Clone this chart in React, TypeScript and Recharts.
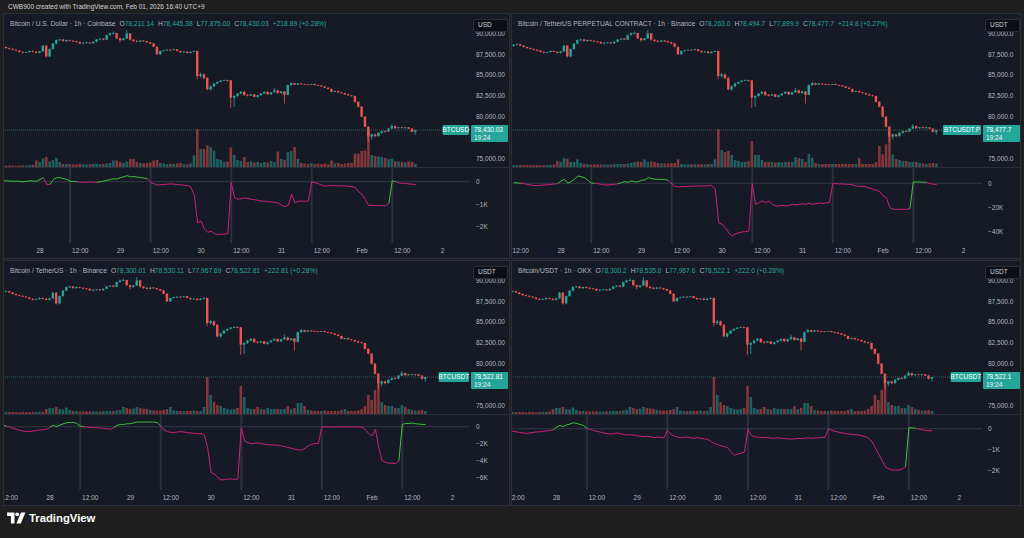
import React from "react";
import {
  ComposedChart,
  BarChart,
  LineChart,
  Bar,
  Line,
  XAxis,
  YAxis,
  ReferenceLine,
  Cell,
} from "recharts";

// ---------- time axis: hours since Jan 27 00:00 (UTC+9), first candle at 10:00 ----------
const START_HOUR = 10;
const timeTicks = [12, 24, 36, 48, 60, 72, 84, 96, 108, 120, 132, 144];
const dayLabels: Record<number, string> = { 24: "28", 48: "29", 72: "30", 96: "31", 120: "Feb", 144: "2" };
const sessionBreaks = [33, 57, 81, 105, 129];

// ---------- 1h candles (BTC) ----------
const opens = [
  88500, 88650, 88700, 88550, 88380, 88240, 88150, 88050, 87950, 87800,
  87700, 87760, 87900, 87800, 87680, 87850, 88530, 87250, 88130, 88780,
  89200, 89280, 89080, 89210, 89120, 89050, 88990, 88800, 88880, 88930,
  88820, 89000, 89280, 89380, 89250, 89800, 90000, 90050, 89420, 89200,
  89400, 90000, 89250, 89100, 89000, 89150, 89080, 88950, 88800, 88400,
  87500, 87900, 88000, 88050, 88010, 88100, 87900, 87750, 87820, 87650,
  87800, 87900, 84900, 85100, 84650, 83300, 83650, 84000, 84200, 84350,
  84420, 84380, 82300, 82500, 82800, 83000, 82600, 82550, 82700, 82400,
  82600, 82800, 83000, 82700, 82950, 83180, 82850, 83050, 82650, 83800,
  84050, 83850, 84000, 83920, 83900, 83880, 83940, 83820, 83760, 83650,
  83500, 83350, 83000, 83100, 82950, 82850, 82700, 82580, 82500, 81800,
  81230, 80030, 78830, 77640, 77900, 77700, 78100, 78300, 78250, 78600,
  78900, 78650, 78750, 78720, 78750, 78600, 78211.14,
];
const highs = [
  88700, 88780, 88760, 88600, 88420, 88300, 88220, 88120, 88020, 87880,
  87830, 87950, 87960, 87880, 87900, 88650, 88600, 88200, 88850, 89300,
  89350, 89320, 89260, 89250, 89180, 89100, 89030, 88950, 88980, 88970,
  89050, 89330, 89420, 89420, 89850, 90100, 90250, 90100, 89500, 89450,
  90400, 90050, 89300, 89250, 89200, 89200, 89120, 89000, 88850, 88450,
  87950, 88060, 88100, 88100, 88150, 88130, 87950, 87880, 87850, 87850,
  87950, 87950, 85300, 85200, 84800, 83750, 84050, 84250, 84400, 84480,
  84480, 84420, 82600, 82850, 83100, 83100, 82750, 82750, 82750, 82650,
  82850, 83050, 83050, 83000, 83500, 83250, 83100, 83100, 83900, 84200,
  84100, 84050, 84060, 83980, 83950, 83960, 83970, 83860, 83800, 83700,
  83550, 83400, 83150, 83150, 83000, 82900, 82780, 82650, 82550, 81900,
  81300, 80100, 78900, 78000, 78000, 78150, 78350, 78400, 78650, 79150,
  78950, 78800, 78820, 78800, 78780, 78650, 78445.38,
];
const lows = [
  88420, 88600, 88500, 88330, 88200, 88080, 87980, 87880, 87720, 87620,
  87650, 87700, 87750, 87600, 87600, 87800, 87100, 87150, 88050, 88700,
  89100, 89020, 89000, 89050, 88980, 88920, 88750, 88720, 88820, 88760,
  88780, 88950, 89200, 89180, 89200, 89750, 89900, 89350, 88950, 89150,
  89350, 89150, 89000, 88950, 88950, 89000, 88880, 88720, 88350, 87420,
  87450, 87850, 87950, 87960, 87980, 87850, 87700, 87720, 87600, 87620,
  87750, 84500, 84700, 84500, 83200, 83150, 83600, 83950, 84150, 84300,
  84250, 81100, 81200, 82400, 82700, 82550, 82450, 82500, 82350, 82300,
  82550, 82750, 82650, 82650, 82900, 82800, 82800, 81600, 82600, 83750,
  83800, 83820, 83880, 83850, 83820, 83830, 83780, 83720, 83600, 83450,
  83300, 82950, 82950, 82900, 82800, 82650, 82520, 82450, 81700, 81150,
  79950, 78750, 77000, 77300, 77550, 77650, 78000, 78150, 78200, 78550,
  78550, 78600, 78650, 78600, 78550, 78150, 77875,
];
const closes = [
  88650, 88700, 88550, 88380, 88240, 88150, 88050, 87950, 87800, 87700,
  87760, 87900, 87800, 87680, 87850, 88530, 87250, 88130, 88780, 89200,
  89280, 89080, 89210, 89120, 89050, 88990, 88800, 88880, 88930, 88820,
  89000, 89280, 89380, 89250, 89800, 90000, 90050, 89420, 89200, 89400,
  90000, 89250, 89100, 89000, 89150, 89080, 88950, 88800, 88400, 87500,
  87900, 88000, 88050, 88010, 88100, 87900, 87750, 87820, 87650, 87800,
  87900, 84900, 85100, 84650, 83300, 83650, 84000, 84200, 84350, 84420,
  84380, 82300, 82500, 82800, 83000, 82600, 82550, 82700, 82400, 82600,
  82800, 83000, 82700, 82950, 83180, 82850, 83050, 82650, 83800, 84050,
  83850, 84000, 83920, 83900, 83880, 83940, 83820, 83760, 83650, 83500,
  83350, 83000, 83100, 82950, 82850, 82700, 82580, 82500, 81800, 81230,
  80030, 78830, 77640, 77900, 77700, 78100, 78300, 78250, 78600, 78900,
  78650, 78750, 78720, 78750, 78600, 78211, 78430.03,
];

// ---------- volume (relative units) ----------
const volCoinbase = [
  1.5, 1.8, 1.6,
  1.5, 1.3, 1.5, 1.4, 1.2, 1.5, 1.6, 1.5, 1.8, 2,
  6.5, 5, 8.5, 10, 5.5, 7, 9, 5, 3, 3,
  2.8, 2.5, 2.5, 3, 2.7, 2.5, 2.8, 3, 3.3, 3, 3.2, 3.5, 4,
  6.5, 6.5, 5, 4, 5.5, 8, 8, 5, 4, 3.5, 4, 4.5, 6.5, 7, 4, 3.5, 3, 3.2, 3, 3.5, 4, 3, 2.8, 3.5, 11.5,
  38, 18, 18, 21.5, 20, 16.5, 8, 7, 5, 5.5, 19.5, 12, 7, 6, 10, 5, 5.5, 4.5, 5, 4, 5, 4.5, 6, 5,
  15.5, 8, 7, 15, 16, 20, 8, 4, 3.5, 3, 4, 3, 3.5, 3, 3.5, 3, 6.5, 3.5, 4, 3, 3.5, 4, 4,
  13.5, 13, 16, 16.5, 37, 12, 11, 10.5, 10, 9, 8, 8.5, 6, 5.5, 5, 4.5, 5.5, 5, 3,
];
const volBinancePerp = [
  2, 2, 2,
  2, 2, 1.8, 2, 2, 1.8, 2, 2, 2.2, 2.5,
  6, 5, 9, 8, 5, 5, 7.7, 4, 3, 3,
  2.5, 2.5, 2.5, 2.7, 2.5, 2.5, 2.6, 2.8, 3, 3, 3, 3.5, 4,
  5, 5.5, 5, 7.7, 5, 5.5, 5, 4, 3.5, 3.5, 3.5, 4, 4, 7.7, 3, 2.7, 2.7, 2.7, 2.7, 2.7, 2.7, 2.7, 3, 3, 7.7,
  37.7, 17, 15, 16, 12, 7, 6, 5, 5, 6, 26, 12, 12, 7, 5, 5, 5, 4.5, 5, 4.5, 5, 5, 5, 10,
  9, 8, 5, 13, 9, 4, 3, 3, 3, 3, 3, 3, 3, 3, 3, 3, 3, 3, 9, 3, 3, 3, 3,
  5, 21, 12.7, 22.7, 31, 12.7, 8, 7, 6, 6, 5, 5, 5, 4, 3.5, 3, 3.5, 4, 3.5,
];
const volBinanceSpot = [
  2.2, 2, 2,
  2, 2, 1.8, 2, 2, 1.8, 2, 2, 2.2, 2.5,
  5, 6, 6, 7, 5, 4.5, 6.5, 4, 3, 3,
  2.5, 2.5, 2.5, 2.7, 2.5, 2.5, 2.6, 2.8, 3, 3, 3, 3.5, 4,
  7, 6, 5, 5.5, 7, 6, 5.5, 5, 4, 3.5, 3.5, 3.5, 4, 5, 7, 3.5, 3, 3, 3, 3, 3, 3.5, 3, 3, 7,
  37, 19, 12, 9, 8, 6, 5, 4.5, 5, 6, 28, 17, 6, 5, 5, 7, 5, 4.5, 6, 5, 5, 5, 5, 5,
  8, 5, 6, 11, 11, 8, 4, 3.5, 3, 3, 3, 3.5, 3, 3, 3, 3, 4, 5, 3, 3, 3, 3.5, 5,
  8, 19, 14, 24, 30, 12, 9, 8, 8, 6, 6, 9, 7, 5, 4, 3.5, 3.5, 4, 3,
];
const volOkx = volBinanceSpot;

// ---------- session cumulative delta (resets 09:00) ----------
const deltaCoinbase = [
  20, 30, 40, 50, 40, 30, 20, 30, 10, 0,
  20, 40, 30, 20, 100, 180, -120, -120, 100, 180,
  180, 135, 100, 20, 10, 0, -20, -30, -20, -10,
  -30, -20, 0, 30, 60, 100, 130, 120, 180, 220,
  270, 210, 230, 200, 190, 160, 140, -40, -90, -150,
  -130, -120, -110, -100, -110, -130, -140, -160, -170, -250,
  -600, -1830, -1750, -2100, -2250, -2200, -2300, -2350, -2330, -2330,
  -2300, -40, -710, -780, -760, -720, -750, -780, -800, -830,
  -860, -870, -880, -900, -920, -950, -1050, -1100, -1050, -560,
  -930, -870, -860, -870, -850, -10, -50, -90, -150, -200,
  -180, -170, -180, -190, -180, -190, -200, -220, -260, -450,
  -560, -800, -1060, -1050, -1060, -1070, -1060, -1070, -950, 40,
  0, -60, -70, -80, -100, -110, -130,
];
const deltaBinancePerp = [
  520, 250, 0, -300, -850, -1400, -1940, -1940, -1660, -1400,
  -1120, -850, -570, -300, 1900, 3250, 0, 1340, 3250, 6000,
  5400, 4600, 2500, 250, 0, -300, -850, -1400, -1400, -1100,
  -850, -300, 520, 1340, 800, 1900, 1070, 1340, 2430, 2700,
  4620, 3800, 3250, 3250, 3250, 2980, 2430, -300, -2480, -3030,
  -2760, -2760, -2480, -2480, -2210, -2210, -2210, -2210, -1940, -1940,
  -5000, -32300, -33600, -36400, -40500, -43200, -41300, -40500, -39900, -39600,
  -39100, -300, -17200, -15900, -14500, -15900, -14500, -17200, -18600, -18600,
  -18050, -18600, -18050, -17200, -17700, -17200, -16700, -17200, -16400, -17200,
  -16700, -16100, -16400, -16100, -15900, -300, -300, -570, -570, -850,
  -850, -1400, -2210, -2480, -2480, -3030, -4120, -4940, -5760, -6850,
  -10400, -11770, -19970, -21300, -21300, -21300, -21300, -21300, -20800, 1070,
  1070, 1070, 800, 800, -300, -850, -850,
];
const deltaBinanceSpot = [
  160, 80, -40, -200, -310, -430, -510, -590, -550, -510,
  -430, -390, -350, -310, -40, 160, 0, 200, 350, 470,
  510, 510, 390, 80, 0, -40, -80, -120, -120, -160,
  -200, -240, -310, -120, 160, 270, 270, 350, 350, 470,
  550, 550, 550, 550, 550, 550, 470, 80, -390, -590,
  -670, -670, -630, -590, -630, -710, -750, -780, -820, -820,
  -980, -2470, -5410, -5600, -6000, -6310, -6270, -6190, -6190, -6230,
  -6190, -120, -1690, -1880, -2000, -1960, -1920, -2000, -2080, -2120,
  -2160, -2160, -2200, -2270, -2350, -2470, -2550, -2670, -2740, -2780,
  -2550, -2270, -2080, -2000, -2000, -10, -20, -40, -30, -30,
  -20, -30, -30, -20, -10, -20, -30, -40, -310, -820,
  -1100, -310, -2470, -4040, -4230, -4310, -4310, -4350, -4040, 270,
  390, 390, 430, 350, 310, 270, 270,
];
const deltaOkx = [
  -100, -120, -150, -180, -200, -220, -200, -180, -150, -150,
  -120, -100, -80, -60, 80, 150, 100, 180, 220, 280,
  250, 200, 150, 20, -30, -80, -120, -160, -200, -230,
  -250, -230, -200, -230, -280, -300, -280, -300, -330, -360,
  -380, -350, -380, -420, -400, -400, -430, -80, -250, -350,
  -400, -420, -400, -400, -430, -450, -420, -450, -480, -500,
  -600, -700, -750, -800, -850, -900, -1100, -1250, -1200, -1150,
  -1100, -20, -300, -380, -400, -420, -400, -420, -450, -450,
  -430, -450, -470, -480, -500, -480, -460, -470, -450, -430,
  -450, -440, -430, -420, -400, -20, -80, -120, -160, -200,
  -220, -250, -260, -280, -300, -330, -380, -450, -600, -900,
  -1200, -1500, -1800, -1900, -1950, -1950, -1950, -1900, -1800, 50,
  40, 20, -20, -60, -80, -100, -100,
];

// ---------- axis ticks ----------
const priceTicks = [75000, 80000, 82500, 85000, 87500, 90000];
const deltaTicksCoinbase = [0, -1000, -2000];
const deltaTicksBinancePerp = [0, -20000, -40000];
const deltaTicksBinanceSpot = [0, -2000, -4000, -6000];
const deltaTicksOkx = [0, -1000, -2000];

// ---------- styling / layout ----------
const FONT = "'Liberation Sans', Arial, sans-serif";
const PAGE_BG = "#1e1e1e";
const PANEL_BG = "#161a25";
const UP = "#26a69a";
const DOWN = "#ef5350";
const VOL_UP = "rgba(38,166,154,0.5)";
const VOL_DOWN = "rgba(239,83,80,0.5)";
const GREEN = "#3cc23c";
const PINK = "#c9217a";
const TEXT = "#b2b5be";
const PX_PER_HOUR = 3.355;
const PANEL_H = 244;
const PRICE_H = 153;
const IND_H = 91;
const PRICE_DOMAIN: [number, number] = [74000, 92330];

type PanelCfg = {
  left: number;
  top: number;
  width: number;
  plotWidth: number;
  t0: number;
  name: string;
  o: string;
  h: string;
  l: string;
  c: string;
  chg: string;
  currency: string;
  tag: string;
  last: string;
  decimals: number;
  volume: number[];
  delta: number[];
  deltaTicks: number[];
  deltaDomain: [number, number];
};

const panels: PanelCfg[] = [
  {
    left: 4, top: 14, width: 505, plotWidth: 466, t0: 13.27,
    name: "Bitcoin / U.S. Dollar · 1h · Coinbase",
    o: "78,211.14", h: "78,445.38", l: "77,875.00", c: "78,430.03", chg: "+218.89 (+0.28%)",
    currency: "USD", tag: "BTCUSD", last: "78,430.03", decimals: 2,
    volume: volCoinbase, delta: deltaCoinbase, deltaTicks: deltaTicksCoinbase, deltaDomain: [-2724, 609],
  },
  {
    left: 512, top: 14, width: 508, plotWidth: 470, t0: 9.39,
    name: "Bitcoin / TetherUS PERPETUAL CONTRACT · 1h · Binance",
    o: "78,263.0", h: "78,494.7", l: "77,899.9", c: "78,477.7", chg: "+214.8 (+0.27%)",
    currency: "USDT", tag: "BTCUSDT.P", last: "78,477.7", decimals: 1,
    volume: volBinancePerp, delta: deltaBinancePerp, deltaTicks: deltaTicksBinancePerp, deltaDomain: [-48900, 12500],
  },
  {
    left: 4, top: 261, width: 505, plotWidth: 466, t0: 10.29,
    name: "Bitcoin / TetherUS · 1h · Binance",
    o: "78,300.01", h: "78,530.11", l: "77,967.69", c: "78,522.81", chg: "+222.81 (+0.28%)",
    currency: "USDT", tag: "BTCUSDT", last: "78,522.81", decimals: 2,
    volume: volBinanceSpot, delta: deltaBinanceSpot, deltaTicks: deltaTicksBinanceSpot, deltaDomain: [-7490, 1385],
  },
  {
    left: 512, top: 261, width: 508, plotWidth: 470, t0: 10.7,
    name: "Bitcoin/USDT · 1h · OKX",
    o: "78,300.2", h: "78,535.0", l: "77,967.6", c: "78,522.1", chg: "+222.0 (+0.28%)",
    currency: "USDT", tag: "BTCUSDT", last: "78,522.1", decimals: 1,
    volume: volOkx, delta: deltaOkx, deltaTicks: deltaTicksOkx, deltaDomain: [-2892, 646],
  },
];

const fmtTime = (t: number) => (t % 24 === 0 ? dayLabels[t] : "12:00");
const fmtK = (v: number) => (v === 0 ? "0" : `${v < 0 ? "\u2212" : ""}${Math.abs(v) / 1000}K`);

function buildRows(p: PanelCfg) {
  const d = p.delta;
  return opens.map((o, k) => {
    const v = d[k];
    const next = k + 1 < d.length ? d[k + 1] : v;
    return {
      t: START_HOUR + k,
      o,
      h: highs[k],
      l: lows[k],
      c: closes[k],
      range: [lows[k], highs[k]],
      vol: p.volume[k],
      pos: v >= 0 || next >= 0 ? v : null,
      neg: v < 0 || next < 0 ? v : null,
    };
  });
}

const Candle = (props: any) => {
  let { x, y, width, height, payload } = props;
  if (!payload || height === undefined) return null;
  if (height < 0) {
    y = y + height;
    height = -height;
  }
  const { o, h, l, c } = payload;
  const up = c >= o;
  const color = up ? UP : DOWN;
  const ratio = h > l ? height / (h - l) : 0;
  const yO = y + (h - o) * ratio;
  const yC = y + (h - c) * ratio;
  const top = Math.min(yO, yC);
  const bh = Math.max(Math.abs(yO - yC), 0.8);
  const cx = x + width / 2;
  return (
    <g>
      <line x1={cx} x2={cx} y1={y} y2={y + height} stroke={color} strokeWidth={0.8} />
      <rect x={x} y={top} width={width} height={bh} fill={color} />
    </g>
  );
};

const PriceTag = (props: any) => {
  const vb = props.viewBox || {};
  const right = (vb.x || 0) + (vb.width || 0);
  const y = vb.y || 0;
  const symW = props.tag.length * 3.9 + 4;
  return (
    <g style={{ fontFamily: FONT }}>
      <rect x={right - symW} y={y - 5} width={symW - 1} height={10} fill={UP} rx={1} />
      <text x={right - symW / 2 - 0.5} y={y + 2.3} fill="#ffffff" fontSize={6.5} textAnchor="middle">
        {props.tag}
      </text>
      <rect x={right + 1} y={y - 5} width={37} height={17} fill={UP} rx={1} />
      <text x={right + 4} y={y + 2.3} fill="#ffffff" fontSize={6.5}>
        {props.last}
      </text>
      <text x={right + 4} y={y + 9.6} fill="#e8f5f3" fontSize={6.5}>
        19:24
      </text>
    </g>
  );
};

function Panel({ p }: { p: PanelCfg }) {
  const rows = buildRows(p);
  const t1 = p.t0 + p.plotWidth / PX_PER_HOUR;
  const axisW = p.width - p.plotWidth;
  const lastClose = closes[closes.length - 1];
  const tickStyle = { fill: TEXT, fontSize: 6.5, fontFamily: FONT };
  const visibleTimeTicks = timeTicks.filter((t) => t >= p.t0 - 1);
  const fmtPrice = (v: number) =>
    v.toLocaleString("en-US", { minimumFractionDigits: p.decimals, maximumFractionDigits: p.decimals });

  return (
    <div
      style={{
        position: "absolute",
        left: p.left,
        top: p.top,
        width: p.width,
        height: PANEL_H,
        background: PANEL_BG,
        overflow: "hidden",
        outline: "1px solid #2a2e39",
      }}
    >
      {/* volume layer */}
      <div style={{ position: "absolute", left: 0, top: 0 }}>
        <BarChart width={p.width} height={PRICE_H} data={rows} margin={{ top: 0, right: axisW, bottom: 0, left: 0 }}>
          <XAxis dataKey="t" type="number" domain={[p.t0, t1]} allowDataOverflow hide />
          <YAxis domain={[0, PRICE_H]} allowDataOverflow hide />
          <Bar dataKey="vol" barSize={2.6} isAnimationActive={false}>
            {rows.map((r, k) => (
              <Cell key={k} fill={r.c >= r.o ? VOL_UP : VOL_DOWN} />
            ))}
          </Bar>
        </BarChart>
      </div>
      {/* candles */}
      <div style={{ position: "absolute", left: 0, top: 0 }}>
        <ComposedChart width={p.width} height={PRICE_H} data={rows} margin={{ top: 0, right: 0, bottom: 0, left: 0 }}>
          <XAxis dataKey="t" type="number" domain={[p.t0, t1]} allowDataOverflow hide />
          <YAxis
            orientation="right"
            width={axisW}
            domain={PRICE_DOMAIN}
            allowDataOverflow
            ticks={priceTicks}
            interval={0}
            tickFormatter={fmtPrice}
            axisLine={false}
            tickLine={false}
            tickSize={0}
            tickMargin={6}
            tick={{ ...tickStyle, textAnchor: "start" }}
          />
          <ReferenceLine
            y={lastClose}
            stroke="#3a6f6a"
            strokeWidth={0.8}
            strokeDasharray="1 1"
            label={<PriceTag tag={p.tag} last={p.last} />}
          />
          <Bar dataKey="range" barSize={2.4} shape={(sp: any) => <Candle {...sp} />} isAnimationActive={false} />
        </ComposedChart>
      </div>
      {/* indicator */}
      <div style={{ position: "absolute", left: 0, top: PRICE_H, borderTop: "1px solid #2a2e39" }}>
        <LineChart width={p.width} height={IND_H} data={rows} margin={{ top: 0, right: 0, bottom: 0, left: 0 }}>
          <XAxis
            dataKey="t"
            type="number"
            domain={[p.t0, t1]}
            allowDataOverflow
            ticks={visibleTimeTicks}
            interval={0}
            tickFormatter={fmtTime}
            axisLine={false}
            tickLine={false}
            tickSize={0}
            tickMargin={5}
            height={16}
            tick={tickStyle}
          />
          <YAxis
            orientation="right"
            width={axisW}
            domain={p.deltaDomain}
            allowDataOverflow
            ticks={p.deltaTicks}
            interval={0}
            tickFormatter={fmtK}
            axisLine={false}
            tickLine={false}
            tickSize={0}
            tickMargin={6}
            tick={{ ...tickStyle, textAnchor: "start" }}
          />
          {sessionBreaks.map((b) => (
            <ReferenceLine key={b} x={b} stroke="#2c303b" strokeWidth={2} />
          ))}
          <ReferenceLine y={0} stroke="#3a3e4a" strokeWidth={0.8} />
          <Line dataKey="neg" type="linear" stroke={PINK} strokeWidth={1} dot={false} isAnimationActive={false} connectNulls={false} />
          <Line dataKey="pos" type="linear" stroke={GREEN} strokeWidth={1} dot={false} isAnimationActive={false} connectNulls={false} />
        </LineChart>
      </div>
      {/* title */}
      <div
        style={{
          position: "absolute",
          left: 6,
          top: 5,
          fontFamily: FONT,
          fontSize: 6.7,
          color: TEXT,
          whiteSpace: "nowrap",
          lineHeight: "9px",
        }}
      >
        <span>{p.name}</span>
        <span style={{ marginLeft: 4 }}>O</span>
        <span style={{ color: UP }}>{p.o}</span>
        <span style={{ marginLeft: 4 }}>H</span>
        <span style={{ color: UP }}>{p.h}</span>
        <span style={{ marginLeft: 4 }}>L</span>
        <span style={{ color: UP }}>{p.l}</span>
        <span style={{ marginLeft: 4 }}>C</span>
        <span style={{ color: UP }}>{p.c}</span>
        <span style={{ marginLeft: 4, color: UP }}>{p.chg}</span>
      </div>
      {/* currency box */}
      <div
        style={{
          position: "absolute",
          left: p.plotWidth + 3,
          top: 5,
          width: 35,
          height: 13,
          boxSizing: "border-box",
          background: "#0c0e14",
          border: "1px solid #2a2e39",
          borderRadius: 2,
          color: "#d1d4dc",
          fontFamily: FONT,
          fontSize: 6.5,
          lineHeight: "9px",
          paddingLeft: 4,
        }}
      >
        {p.currency}
      </div>
    </div>
  );
}

export default function App() {
  return (
    <div
      style={{
        position: "fixed",
        left: 0,
        top: 0,
        width: 1024,
        height: 538,
        background: PAGE_BG,
        overflow: "hidden",
        fontFamily: FONT,
      }}
    >
      <div style={{ position: "absolute", left: 8, top: 3, fontSize: 6.5, color: "#d1d4dc", whiteSpace: "nowrap" }}>
        CWB900 created with TradingView.com, Feb 01, 2026 16:40 UTC+9
      </div>
      {panels.map((p, k) => (
        <Panel key={k} p={p} />
      ))}
      <div style={{ position: "absolute", left: 7, top: 512, display: "flex", alignItems: "center" }}>
        <svg width={19} height={12} viewBox="0 0 19 12">
          <path d="M0 0.5h7.5v11h-3.6v-7.4h-3.9z" fill="#ffffff" />
          <circle cx={10.2} cy={2.3} r={1.9} fill="#ffffff" />
          <path d="M14 0.5h4.4l-4.6 11h-4.4z" fill="#ffffff" />
        </svg>
        <span style={{ marginLeft: 3, color: "#ffffff", fontWeight: 700, fontSize: 11.3, fontFamily: FONT }}>
          TradingView
        </span>
      </div>
    </div>
  );
}
